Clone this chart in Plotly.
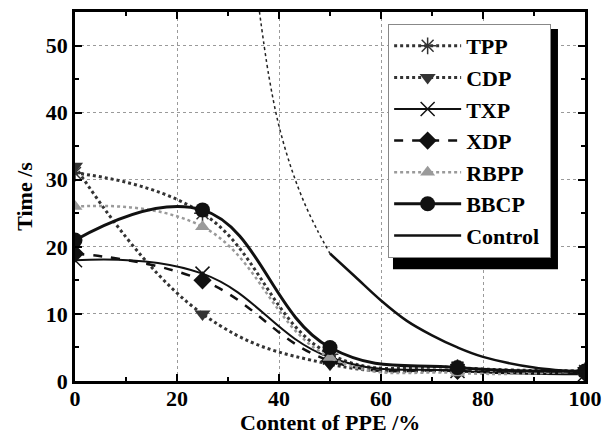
import plotly.graph_objects as go

# ---- data ----
ppe = [0, 25, 50, 75, 100]
tpp = [31, 25, 4, 2, 1.5]
cdp = [32, 10, 2.5, 1.5, 1.5]
txp = [18, 16, 3.5, 1.5, 1.0]
xdp = [19, 15, 3.0, 1.5, 1.2]
rbpp = [26, 23, 3.5, 1.2, 1.5]
bbcp = [21, 25.5, 5, 2, 1.5]
control_x = [50, 55, 60, 65, 70, 75, 80, 90, 100]
control_y = [19, 15.5, 12, 9, 6.8, 5, 3.6, 2.0, 1.3]
control_ext_x = [36, 38, 40, 42.5, 45, 47.5, 50]
control_ext_y = [56, 45.5, 38, 31.5, 26.5, 22.5, 19]

xticks = [0, 20, 40, 60, 80, 100]
yticks = [0, 10, 20, 30, 40, 50]

FONT = "Liberation Serif"

fig = go.Figure()

def add(name, y, symbol, color, dash, width, msize, mline=0, mcolor=None):
    fig.add_trace(go.Scatter(
        x=ppe, y=y, name=name, mode="lines+markers", legendgroup=name,
        line=dict(color=color, dash=dash, width=width, shape="spline", smoothing=1.2),
        marker=dict(symbol=symbol, size=msize, color=mcolor or color,
                    line=dict(width=mline, color=mcolor or color)),
    ))

add("TPP", tpp, "asterisk", "#333333", "dot", 3, 14, mline=1.5)
add("CDP", cdp, "triangle-down", "#333333", "dot", 3, 14)
add("TXP", txp, "x-thin", "#111111", "solid", 2, 14, mline=1.5)
add("XDP", xdp, "diamond", "#111111", "dash", 2.5, 14)
add("RBPP", rbpp, "triangle-up", "#9a9a9a", "dot", 2.5, 13)
add("BBCP", bbcp, "circle", "#111111", "solid", 3, 15)

fig.add_trace(go.Scatter(
    x=control_ext_x, y=control_ext_y, mode="lines", showlegend=False,
    line=dict(color="#222222", dash="dot", width=1.5, shape="spline"),
))
fig.add_trace(go.Scatter(
    x=control_x, y=control_y, name="Control\u00a0", mode="lines", legendgroup="Control",
    line=dict(color="#111111", width=2.5, shape="spline"),
))

axis_common = dict(
    showline=True, linecolor="black", linewidth=2.5, mirror="ticks",
    ticks="inside", ticklen=7, tickwidth=2, tickcolor="black",
    showgrid=True, gridcolor="#9a9a9a", griddash="dot", gridwidth=1,
    zeroline=False, automargin=False,
    tickfont=dict(family=FONT, size=22, color="black", weight="bold"),
    minor=dict(ticks="inside", ticklen=4, tickwidth=1.5, tickcolor="black", showgrid=False),
)

fig.update_xaxes(range=[0, 100], tickvals=xticks, ticktext=[str(v) for v in xticks],
                 minor_dtick=10, ticklabelstandoff=-4,
                 **axis_common)
fig.update_yaxes(range=[0, 55], tickvals=yticks, ticktext=[str(v) for v in yticks],
                 minor_dtick=5,
                 title=dict(text="Time /s", standoff=8,
                            font=dict(family=FONT, size=22, color="black", weight="bold")),
                 **axis_common)

# x-axis title
fig.add_annotation(text="Content of PPE /%", xref="paper", yref="paper",
                   x=0.5, y=-0.1502, xanchor="center", yanchor="bottom",
                   showarrow=False, borderpad=0,
                   font=dict(family=FONT, size=22, color="black", weight="bold"))

# legend shadow
fig.add_shape(type="rect", xref="paper", yref="paper",
              x0=0.6235, x1=0.947, y0=0.303, y1=0.954,
              fillcolor="black", line=dict(width=0), layer="above")

fig.update_layout(
    width=605, height=437,
    margin=dict(l=75, r=20, t=12, b=55.5, autoexpand=False),
    paper_bgcolor="white", plot_bgcolor="white",
    legend=dict(x=0.614, y=0.9675, xanchor="left", yanchor="top",
                bgcolor="white", bordercolor="#888888", borderwidth=1,
                font=dict(family=FONT, size=22, color="black", weight="bold"),
                itemwidth=67, tracegroupgap=4, traceorder="normal"),
)

fig.write_html("out.html")
